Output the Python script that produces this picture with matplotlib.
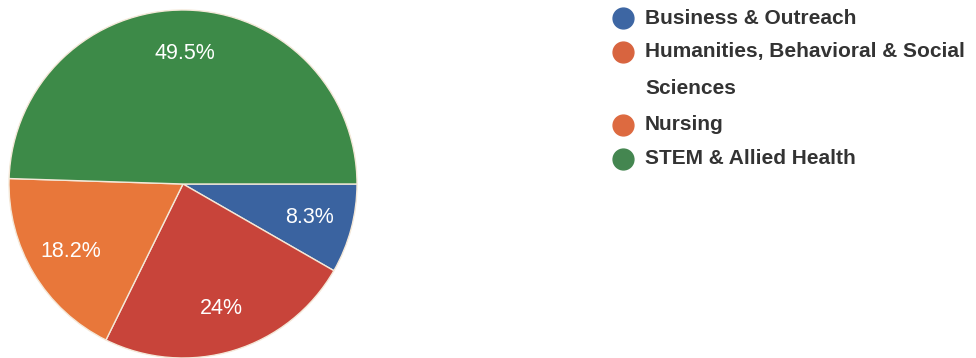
import matplotlib.pyplot as plt
from matplotlib.lines import Line2D

labels = ['Business & Outreach', 'Humanities, Behavioral & Social\nSciences', 'Nursing', 'STEM & Allied Health']
values = [8.3, 24.0, 18.2, 49.5]
colors = ['#3a63a0', '#c8443a', '#e8773a', '#3d8a48']
legend_colors = ['#3d66a3', '#d8643f', '#dd6a40', '#448650']

fig = plt.figure(figsize=(9.76, 3.58), dpi=100)
ax = fig.add_axes([9 / 976, 0, 348 / 976, 348 / 358])

wedges, texts, autotexts = ax.pie(
    values, colors=colors, startangle=0, counterclock=False,
    autopct=lambda p: f'{round(p, 1):g}%', pctdistance=0.75,
    wedgeprops=dict(edgecolor='#f4e8d8', linewidth=1),
    textprops=dict(color='white', fontsize=15.5, family='Liberation Sans'))
ax.set_xlim(-1, 1)
ax.set_ylim(-1, 1)
ax.set_aspect('equal')

# legend drawn by hand so the wrapped label keeps its dot on the first line
rows_y = [18, 52, 125, 159]
for lab, c, y in zip(labels, legend_colors, rows_y):
    fy = 1 - y / 358
    fig.add_artist(Line2D([623 / 976], [fy], marker='o', markersize=15,
                          color=c, linestyle='none', transform=fig.transFigure))
    if '\n' in lab:
        first, second = lab.split('\n')
        fig.text(645 / 976, fy, first, fontsize=15, fontweight='bold', color='#333333',
                 family='Liberation Sans', va='center')
        fig.text(645 / 976, 1 - (y + 36) / 358, second, fontsize=15, fontweight='bold',
                 color='#333333', family='Liberation Sans', va='center')
    else:
        fig.text(645 / 976, fy, lab, fontsize=15, fontweight='bold', color='#333333',
                 family='Liberation Sans', va='center')

fig.savefig('out.png', dpi=100, facecolor='white')
